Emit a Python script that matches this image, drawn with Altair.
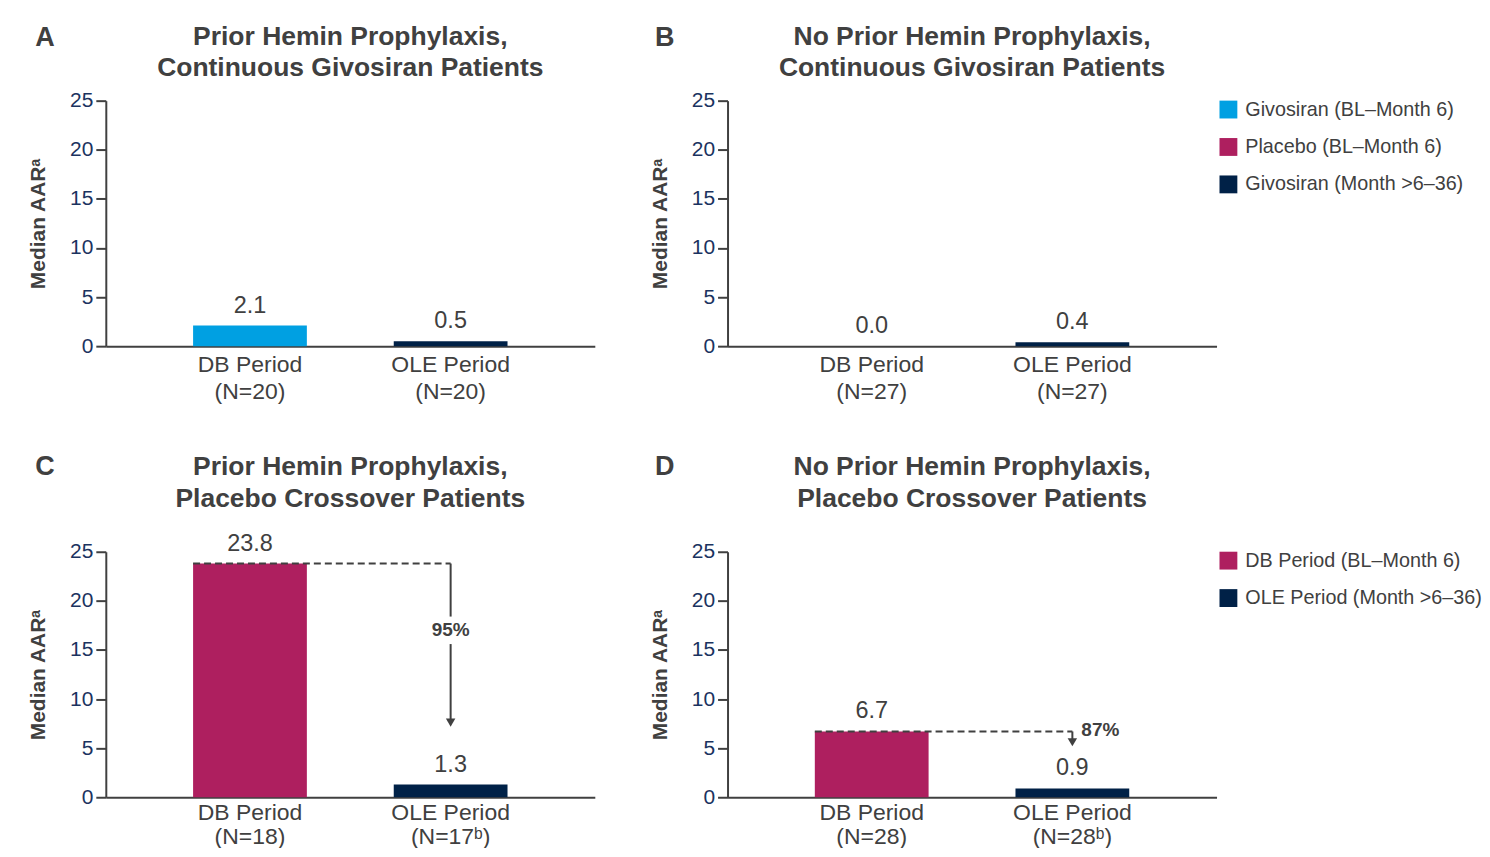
import altair as alt
import pandas as pd

FONT = "Liberation Sans"
GRAY = "#404040"
TICK_NAVY = "#1b3360"
CYAN = "#00a0e2"
MAGENTA = "#ae1f5f"
NAVY = "#002147"

# ---------------- data ----------------
letters = ["A", "B", "C", "D"]
titles = [
    ["Prior Hemin Prophylaxis,", "Continuous Givosiran Patients"],
    ["No Prior Hemin Prophylaxis,", "Continuous Givosiran Patients"],
    ["Prior Hemin Prophylaxis,", "Placebo Crossover Patients"],
    ["No Prior Hemin Prophylaxis,", "Placebo Crossover Patients"],
]
periods = ["DB Period", "OLE Period"]
n_labels = [["(N=20)", "(N=20)"], ["(N=27)", "(N=27)"], ["(N=18)", "(N=17ᵇ)"], ["(N=28)", "(N=28ᵇ)"]]
median_aar = [[2.1, 0.5], [0.0, 0.4], [23.8, 1.3], [6.7, 0.9]]
top_series = ["Givosiran (BL–Month 6)", "Placebo (BL–Month 6)", "Givosiran (Month >6–36)"]
bottom_series = ["DB Period (BL–Month 6)", "OLE Period (Month >6–36)"]
panel_series = [
    [top_series[0], top_series[2]],
    [top_series[0], top_series[2]],
    bottom_series,
    bottom_series,
]
reduction_pct = [None, None, "95%", "87%"]

# annotation geometry (arrow segments in data units)
arrow_segments = {2: [(23.8, 18.4), (15.6, 7.6)], 3: [(6.7, 5.6)]}
arrow_heads = {2: 7.6, 3: 5.6}
pct_pos = {2: (17.0, 0, "center"), 3: (6.8, 9, "left")}

# layout (pixel positions of letters / titles relative to each plot)
W, H = 490, 246
letter_pos = [(-61, -63), (-63, -63), (-61, -85), (-63, -85)]
title_pos = [(-64, -33), (-64, -33), (-84.5, -53), (-84.5, -53)]
label_pad = [7, 7, 4, 4]
label_lh = [27, 27, 24, 24]


def panel(i):
    cats = [f"{p}|{n}" for p, n in zip(periods, n_labels[i])]
    df = pd.DataFrame({
        "cat": cats,
        "value": median_aar[i],
        "series": panel_series[i],
        "label": [f"{v:.1f}" for v in median_aar[i]],
    })
    if i < 2:
        domain, rng = top_series, [CYAN, MAGENTA, NAVY]
    else:
        domain, rng = bottom_series, [MAGENTA, NAVY]

    if i in (1, 3):
        legend = alt.Legend(
            orient="none", legendX=492, legendY=-1, title=None,
            symbolType="square", symbolSize=320, symbolStrokeWidth=0,
            symbolOpacity=1, labelFontSize=19.8, labelColor=GRAY, labelFont=FONT,
            rowPadding=16.5, labelOffset=7, padding=0, labelLimit=400,
        )
    else:
        legend = None

    xscale = alt.Scale(paddingInner=0.433, paddingOuter=0.435)
    x = alt.X(
        "cat:N", sort=cats, scale=xscale,
        axis=alt.Axis(
            title=None, labelExpr="split(datum.label, '|')", labelAngle=0,
            ticks=False, domainColor=GRAY, domainWidth=2, labelFontSize=23,
            labelColor=GRAY, labelFont=FONT, labelLineHeight=label_lh[i],
            labelPadding=label_pad[i],
        ),
    )
    y = alt.Y(
        "value:Q", scale=alt.Scale(domain=[0, 25], nice=False, zero=True),
        axis=alt.Axis(
            values=[0, 5, 10, 15, 20, 25], title="Median AARᵃ", grid=False,
            titleFontSize=21, titleFont=FONT, titleColor=GRAY, titleFontWeight="bold",
            titlePadding=21, labelFontSize=21, labelColor=TICK_NAVY, labelFont=FONT,
            labelPadding=3, tickSize=10, tickWidth=2, tickColor=GRAY,
            domainColor=GRAY, domainWidth=2,
        ),
    )
    bars = alt.Chart(df).mark_bar().encode(
        x=x, y=y,
        color=alt.Color("series:N", scale=alt.Scale(domain=domain, range=rng), legend=legend),
    )
    vals = alt.Chart(df).mark_text(
        baseline="bottom", dy=-8, fontSize=23.5, color=GRAY, font=FONT
    ).encode(x=alt.X("cat:N", sort=cats), y="value:Q", text="label:N")

    layers = [bars, vals]

    if i in arrow_segments:
        dash_df = pd.DataFrame({"from": [cats[0]], "to": [cats[1]], "y": [median_aar[i][0]]})
        dash = alt.Chart(dash_df).mark_rule(strokeDash=[7, 4], strokeWidth=2, color=GRAY).encode(
            x=alt.X("from:N", sort=cats, bandPosition=0),
            x2=alt.X2("to", bandPosition=0.5),
            y="y:Q",
        )
        seg_df = pd.DataFrame({
            "x": [cats[1]] * len(arrow_segments[i]),
            "y1": [s[0] for s in arrow_segments[i]],
            "y2": [s[1] for s in arrow_segments[i]],
        })
        segs = alt.Chart(seg_df).mark_rule(strokeWidth=2, color=GRAY).encode(
            x=alt.X("x:N", sort=cats), y="y1:Q", y2="y2:Q"
        )
        head_df = pd.DataFrame({"x": [cats[1]], "y": [arrow_heads[i]]})
        head = alt.Chart(head_df).mark_point(
            shape="triangle-down", filled=True, size=90, color=GRAY, opacity=1
        ).encode(x=alt.X("x:N", sort=cats), y="y:Q")
        py, pdx, palign = pct_pos[i]
        pct_df = pd.DataFrame({"x": [cats[1]], "y": [py], "t": [reduction_pct[i]]})
        pct = alt.Chart(pct_df).mark_text(
            fontSize=19, fontWeight="bold", color=GRAY, font=FONT, dx=pdx, align=palign
        ).encode(x=alt.X("x:N", sort=cats), y="y:Q", text="t:N")
        layers += [dash, segs, head, pct]

    lx, ly = letter_pos[i]
    letter = alt.Chart(pd.DataFrame({"t": [letters[i]]})).mark_text(
        fontSize=27, fontWeight="bold", color=GRAY, font=FONT
    ).encode(x=alt.value(lx), y=alt.value(ly), text="t:N")
    layers.append(letter)

    for line, ty in zip(titles[i], title_pos[i]):
        t = alt.Chart(pd.DataFrame({"t": [line]})).mark_text(
            fontSize=26.5, fontWeight="bold", color=GRAY, font=FONT, align="center"
        ).encode(x=alt.value(W / 2), y=alt.value(ty), text="t:N")
        layers.append(t)

    return alt.layer(*layers).properties(width=W, height=H)


chart = alt.concat(
    *[panel(i) for i in range(4)],
    columns=2,
    spacing={"row": 206, "column": 133},
    bounds="flush",
).resolve_scale(color="independent").properties(
    padding={"left": 19, "top": 15, "right": 0, "bottom": -1.5}
).configure_view(stroke=None)

chart.save("out.html", embed_options={"renderer": "svg", "actions": False})
